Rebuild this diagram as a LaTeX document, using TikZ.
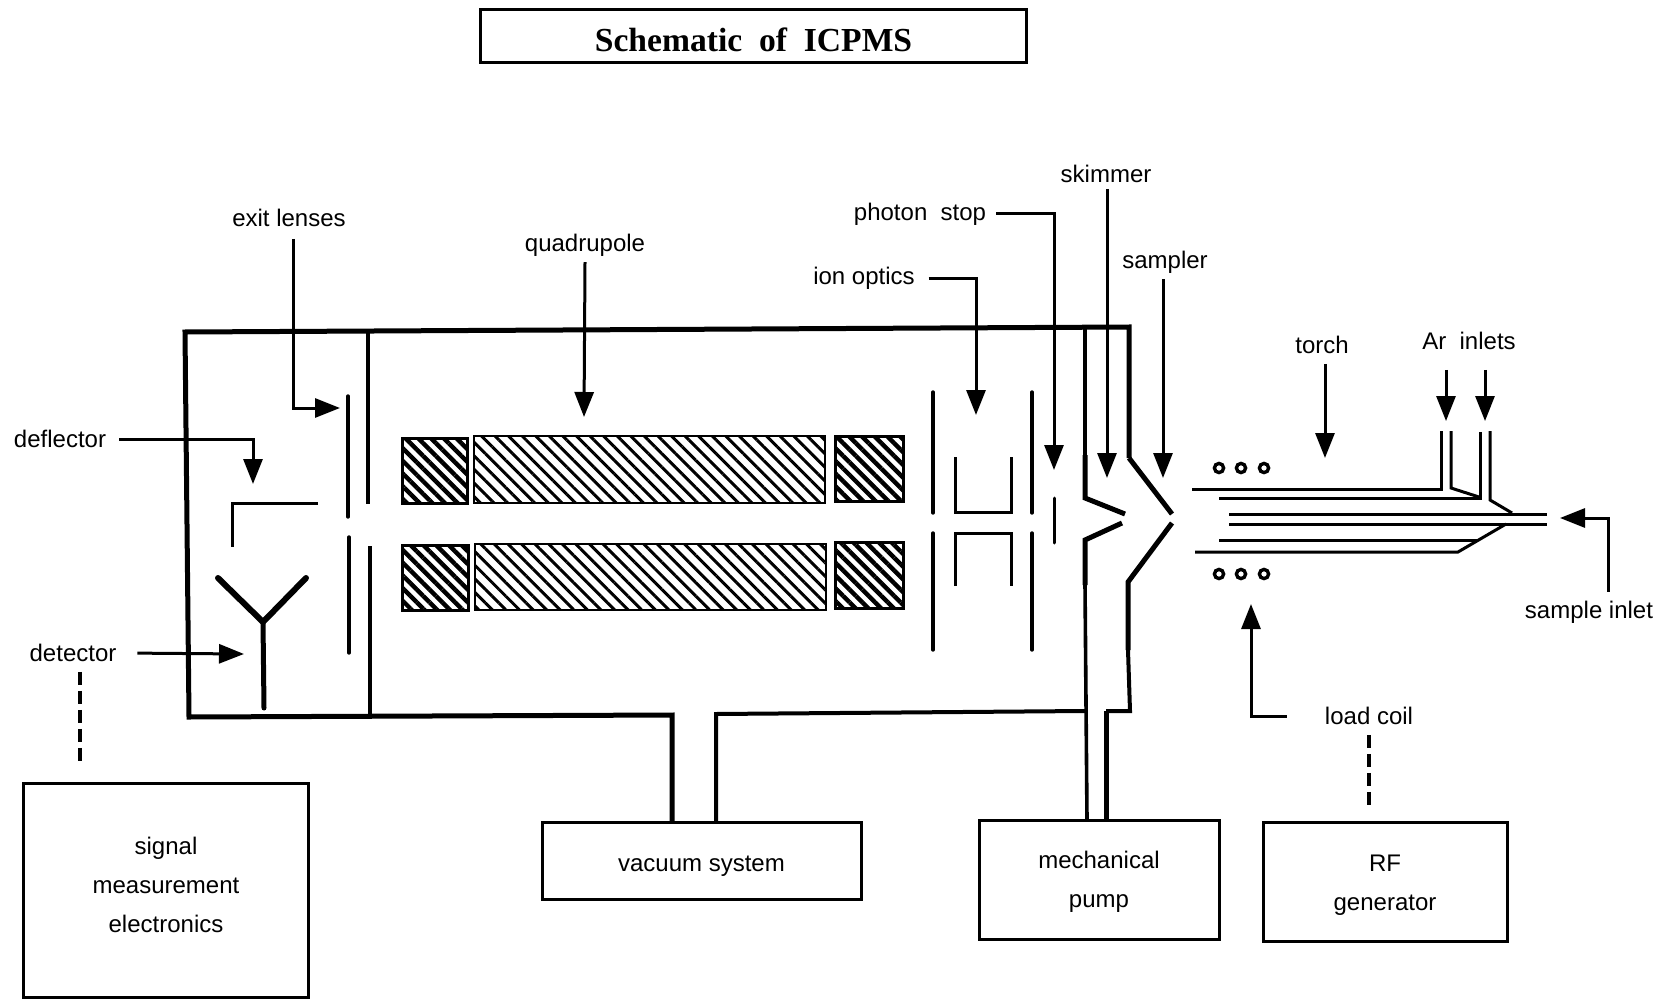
\documentclass[tikz,border=0pt]{standalone}
\usepackage{fontspec}
\setmainfont{Liberation Sans}
\newfontfamily\titlefont{Liberation Serif}
\usepackage{tikz}
\usetikzlibrary{arrows.meta,patterns.meta,calc}

\tikzset{
  tag/.style={font=\fontsize{24}{39}\selectfont,inner sep=1pt,outer sep=5pt},
  unitbox/.style={draw,line width=3pt,inner sep=0pt,align=center,font=\fontsize{24}{39}\selectfont},
  callout/.style={line width=3pt,-{Triangle[length=25pt,width=19pt]}},
  wall/.style={line width=3.2pt},
  thinwall/.style={line width=3pt},
  thickwall/.style={line width=5pt},
  plate/.style={line width=3.4pt,line cap=round},
  tube/.style={line width=3pt},
  hatchdark/.style={draw,line width=3pt,pattern={Lines[angle=-45,distance=9pt,line width=4.4pt]}},
  hatchlight/.style={draw,line width=2.4pt,pattern={Lines[angle=-45,distance=9.6pt,line width=3pt]}},
  wire/.style={line width=4.5pt,dash pattern=on 13pt off 6pt}
}

\begin{document}
\begin{tikzpicture}[x=1pt,y=-1pt]
  \useasboundingbox (0,0) rectangle (1661,1000);

  % boxes
  \node[unitbox,font=\titlefont\bfseries\fontsize{33.6}{38}\selectfont,minimum width=546pt,minimum height=53pt] (titlebox) at (753.5,36) {\rule{0pt}{31pt}Schematic\ \ of\ \ ICPMS};
  \node[unitbox,minimum width=285pt,minimum height=214pt] (signalbox) at (166,890) {signal\\measurement\\electronics\rule[-11pt]{0pt}{11pt}};
  \node[unitbox,minimum width=319pt,minimum height=77pt] (vacuumbox) at (701.5,861) {\rule{0pt}{25pt}vacuum system};
  \node[unitbox,minimum width=240pt,minimum height=119pt] (pumpbox) at (1099,880) {\rule{0pt}{20pt}mechanical\\pump};
  \node[unitbox,minimum width=244pt,minimum height=119pt] (rfbox) at (1385,882) {\rule{0pt}{23pt}RF\\generator};

  % labels
  \node[tag] (exitlabel) at (289,218) {exit lenses};
  \node[tag] (quadlabel) at (585,245) {quadrupole};
  \node[tag] (photonlabel) at (920,214) {photon\ \ stop};
  \node[tag] (ionlabel) at (864,278) {ion optics};
  \node[tag] (skimlabel) at (1106,174) {skimmer};
  \node[tag] (samplerlabel) at (1165,262) {sampler};
  \node[tag] (torchlabel) at (1322,345) {torch};
  \node[tag] (arlabel) at (1469,341) {Ar\ \ inlets};
  \node[tag] (deflectlabel) at (60,439) {deflector};
  \node[tag] (detectlabel) at (73,653) {detector};
  \node[tag] (samplelabel) at (1589,612) {sample inlet};
  \node[tag] (coillabel) at (1369,716) {load coil};

  % chamber
  \draw[line width=5pt,line join=miter] (672,822) -- (672,715) -- (189,717) -- (185,332) -- (1129,327) -- (1129,458);
  \draw[line width=4pt] (716,822) -- (716,714) -- (1085,711);
  \draw[wall] (368,332) -- (368,504);
  \draw[wall] (370,546) -- (370,716);

  % exit lenses, deflector, detector
  \draw[plate] (348,396) -- (348,517);
  \draw[plate] (349,537) -- (349,653);
  \draw[thinwall] (318,503) -- (232,503) -- (232,547);
  \draw[line width=6pt,line cap=round] (218,578) -- (263,622) -- (306,578);
  \draw[line width=5pt,line cap=round] (263,622) -- (264,708);

  % rods
  \foreach \xa/\ya/\xb/\yb in {402/438/467/503,402/545/468/610,835/436/903/501,835/542/903/608}{
    \draw[hatchdark] (\xa,\ya) rectangle (\xb,\yb);
  }
  \foreach \xa/\ya/\xb/\yb in {474/436/825/503,475/544/826/610}{
    \draw[hatchlight] (\xa,\ya) rectangle (\xb,\yb);
  }

  % ion optics, photon stop
  \foreach \x in {933,1032}{
    \draw[plate] (\x,392) -- (\x,513);
    \draw[plate] (\x,533) -- (\x,650);
  }
  \draw[thinwall] (955,457) -- (955,512) -- (1011,512) -- (1011,457);
  \draw[thinwall] (955,586) -- (955,533) -- (1011,533) -- (1011,586);
  \draw[thinwall,line cap=round] (1054,498) -- (1054,543);

  % skimmer and sampler walls
  \draw[wall] (1085,327) -- (1085,455);
  \draw[thickwall] (1085,455) -- (1085,498) -- (1125,514);
  \draw[thickwall] (1122,523) -- (1085,540) -- (1085,585);
  \draw[line width=3.6pt] (1085,585) -- (1087,820);
  \draw[thickwall] (1129,458) -- (1172,514);
  \draw[thickwall] (1172,523) -- (1128,582) -- (1128,650);
  \draw[line width=4pt] (1128,650) -- (1130,711) -- (1106,711);
  \draw[thickwall] (1106,711) -- (1106,820);

  % torch
  \draw[tube] (1192,489) -- (1441,489) -- (1441,431);
  \draw[tube] (1451,431) -- (1451,488) -- (1479,497);
  \draw[tube] (1219,498) -- (1480,498) -- (1480,432);
  \draw[tube] (1490,431) -- (1490,500) -- (1512,513);
  \draw[tube] (1229,514) -- (1547,514);
  \draw[tube] (1229,524) -- (1547,524);
  \draw[tube] (1219,540) -- (1477,540);
  \draw[tube] (1195,552) -- (1458,552) -- (1506,524);

  % load coil
  \foreach \x in {1219,1241,1264}{
    \draw[line width=3.4pt] (\x,468) circle (4.6pt);
    \draw[line width=3.4pt] (\x,574) circle (4.6pt);
  }

  % arrow ends
  \coordinate (exittip) at (340,408);
  \coordinate (quadtip) at (584,417);
  \coordinate (photontip) at (1054,470);
  \coordinate (iontip) at (976,415);
  \coordinate (skimtip) at (1107,478);
  \coordinate (samplertip) at (1163,478);
  \coordinate (torchtip) at (1325,458);
  \coordinate (artipa) at (1446,421);
  \coordinate (artipb) at (1485,421);
  \coordinate (deflecttip) at (253,484);
  \coordinate (detecttip) at (244,654);
  \coordinate (sampletip) at (1560,518);
  \coordinate (coiltip) at (1251,604);

  % callouts
  \draw[callout,shorten <=6pt] ([xshift=4pt]exitlabel.south) |- (exittip);
  \draw[callout] (quadlabel.south) -- (quadtip);
  \draw[callout,shorten <=4pt] (photonlabel.east) -| (photontip);
  \draw[callout,shorten <=8pt] (ionlabel.east) -| (iontip);
  \draw[callout] (skimlabel.south -| skimtip) -- (skimtip);
  \draw[callout] (samplerlabel.south -| samplertip) -- (samplertip);
  \draw[callout,shorten <=4pt] (torchlabel.south -| torchtip) -- (torchtip);
  \draw[callout,shorten <=14pt] (arlabel.south -| artipa) -- (artipa);
  \draw[callout,shorten <=14pt] (arlabel.south -| artipb) -- (artipb);
  \draw[callout,shorten <=7pt] (deflectlabel.east) -| (deflecttip);
  \draw[callout,shorten <=15pt] (detectlabel.east) -- (detecttip);
  \draw[callout,shorten <=3pt] (samplelabel.north -| 1608,0) |- (sampletip);
  \draw[callout,shorten <=32pt] (coillabel.west) -| (coiltip);

  % links to units
  \draw[wire,shorten <=4pt,shorten >=18pt] ([xshift=7pt]detectlabel.south) -- ([xshift=7pt]detectlabel.south |- signalbox.north);
  \draw[wire,shorten <=4pt,shorten >=11pt] (coillabel.south) -- (coillabel.south |- rfbox.north);
\end{tikzpicture}
\end{document}
